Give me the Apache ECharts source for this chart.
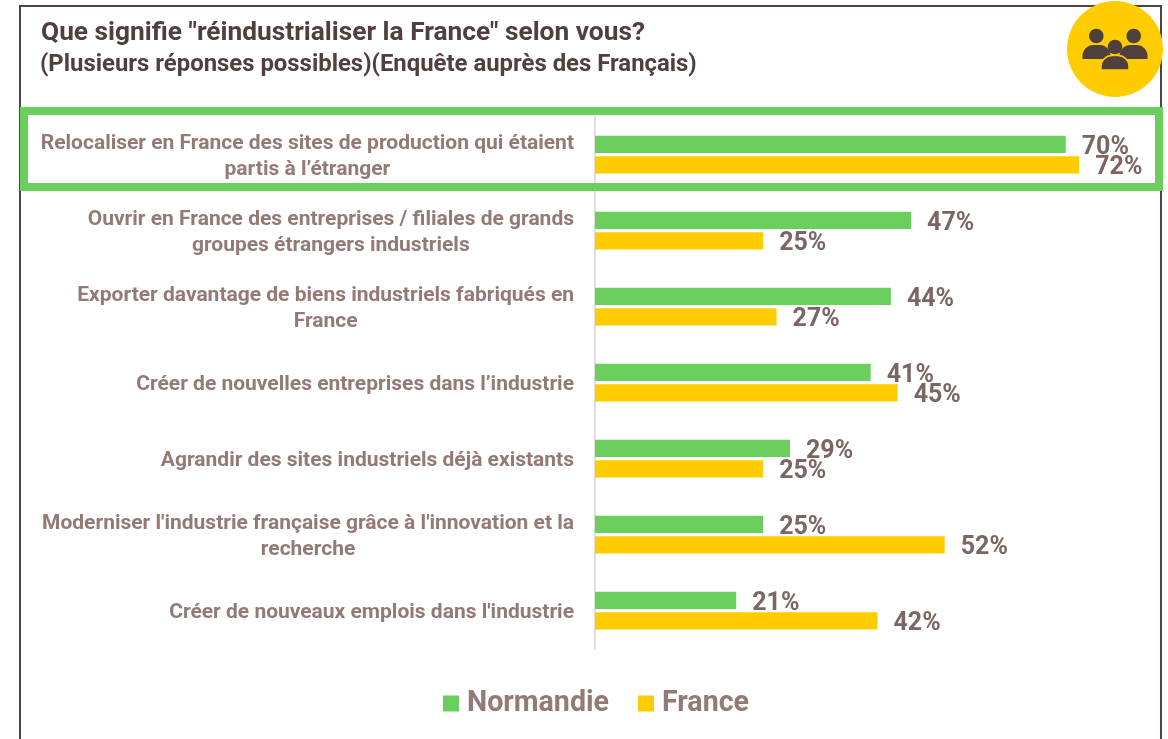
<!DOCTYPE html>
<html><head><meta charset="utf-8">
<style>html,body{margin:0;padding:0;background:#fff}#c{width:1168px;height:739px}</style>
<script src="https://cdn.jsdelivr.net/npm/echarts@6/dist/echarts.min.js"></script>
</head><body><div id="c"></div>
<script>
const categories = [
  "Relocaliser en France des sites de production qui étaient\npartis à l’étranger",
  "Ouvrir en France des entreprises / filiales de grands\ngroupes étrangers industriels",
  "Exporter davantage de biens industriels fabriqués en\nFrance",
  "Créer de nouvelles entreprises dans l’industrie",
  "Agrandir des sites industriels déjà existants",
  "Moderniser l'industrie française grâce à l'innovation et la\nrecherche",
  "Créer de nouveaux emplois dans l'industrie"
];
const normandie = [70, 47, 44, 41, 29, 25, 21];
const france = [72, 25, 27, 45, 25, 52, 42];
const titleText = 'Que signifie "réindustrialiser la France" selon vous?';
const subtitleText = '(Plusieurs réponses possibles)(Enquête auprès des Français)';

const FONT = 'Roboto';
const LABEL_SIZE = 21;
const GREEN = '#6acf5c', YELLOW = '#ffcc00', DARK = '#4f3f3d', BROWN = '#937a76', VAL = '#7b6663';

const ctx = document.createElement('canvas').getContext('2d');
ctx.font = 'bold ' + LABEL_SIZE + 'px ' + FONT;
const rich = { l: { fontFamily: FONT, fontWeight: 'bold', fontSize: LABEL_SIZE, color: BROWN, lineHeight: 26 } };
categories.forEach((c, i) => {
  const ls = c.split('\n');
  if (ls.length > 1) {
    rich['s' + i] = { width: (ctx.measureText(ls[0]).width - ctx.measureText(ls[1]).width) / 2, height: 1 };
  }
});
function catLabel(v) {
  const lines = v.split('\n');
  if (lines.length === 1) return '{l|' + v + '}';
  return '{l|' + lines[0] + '}\n{l|' + lines[1] + '}{s' + categories.indexOf(v) + '|}';
}

const valueLabel = { show: true, position: 'right', distance: 16, offset: [0, 3], formatter: '{c}%',
  fontFamily: FONT, fontWeight: 'bold', fontSize: 25, color: VAL };

const chart = echarts.init(document.getElementById('c'), null, { renderer: 'canvas' });
chart.setOption({
  animation: false,
  backgroundColor: '#fff',
  textStyle: { fontFamily: FONT },
  grid: { left: 595, top: 116.6, width: 538, height: 532, containLabel: false },
  xAxis: { type: 'value', min: 0, max: 80, show: false },
  yAxis: {
    type: 'category', inverse: true, data: categories, offset: 1,
    axisLine: { show: true, lineStyle: { color: '#e3dede', width: 2 } },
    axisTick: { show: false },
    axisLabel: { margin: 20, align: 'right', padding: [5, 0, 0, 0], formatter: catLabel, rich: rich }
  },
  legend: {
    left: 443, top: 689, padding: 0, icon: 'rect', itemWidth: 16, itemHeight: 16, itemGap: 29,
    data: ['Normandie', 'France'],
    textStyle: { fontFamily: FONT, fontWeight: 'bold', fontSize: 28.6, color: BROWN, padding: [7, 0, 0, 3] }
  },
  series: [
    { name: 'Normandie', type: 'bar', data: normandie, barWidth: 17.3, barGap: '19%',
      itemStyle: { color: GREEN }, label: valueLabel },
    { name: 'France', type: 'bar', data: france, barWidth: 17.3,
      itemStyle: { color: YELLOW }, label: valueLabel }
  ],
  graphic: [
    { type: 'rect', z: -1, silent: true, shape: { x: 20, y: 6, width: 1141, height: 760 },
      style: { fill: 'none', stroke: '#54423f', lineWidth: 2 } },
    { type: 'rect', z: 10, silent: true, shape: { x: 24, y: 111, width: 1135, height: 76 },
      style: { fill: 'none', stroke: GREEN, lineWidth: 8 } },
    { type: 'text', left: 41, top: 20, style: { text: titleText, fill: DARK,
        font: 'bold 26.3px ' + FONT } },
    { type: 'text', left: 40, top: 53, style: { text: subtitleText, fill: DARK,
        font: 'bold 23.9px ' + FONT } },
    { type: 'circle', silent: true, z: 5, shape: { cx: 1115, cy: 49, r: 48 }, style: { fill: YELLOW } },
    { type: 'circle', silent: true, z: 6, shape: { cx: 1096.3, cy: 36, r: 7.3 }, style: { fill: DARK } },
    { type: 'circle', silent: true, z: 6, shape: { cx: 1133.7, cy: 36, r: 7.3 }, style: { fill: DARK } },
    { type: 'rect', silent: true, z: 6, shape: { x: 1082.5, y: 45, width: 28, height: 14, r: [11, 11, 0, 0] }, style: { fill: DARK } },
    { type: 'rect', silent: true, z: 6, shape: { x: 1119.5, y: 45, width: 28, height: 14, r: [11, 11, 0, 0] }, style: { fill: DARK } },
    { type: 'circle', silent: true, z: 7, shape: { cx: 1115, cy: 47, r: 7.3 }, style: { fill: DARK } },
    { type: 'rect', silent: true, z: 7, shape: { x: 1101, y: 55.5, width: 28, height: 14.5, r: [11, 11, 0, 0] },
      style: { fill: DARK, stroke: YELLOW, lineWidth: 1.5 } }
  ]
});
</script></body></html>
